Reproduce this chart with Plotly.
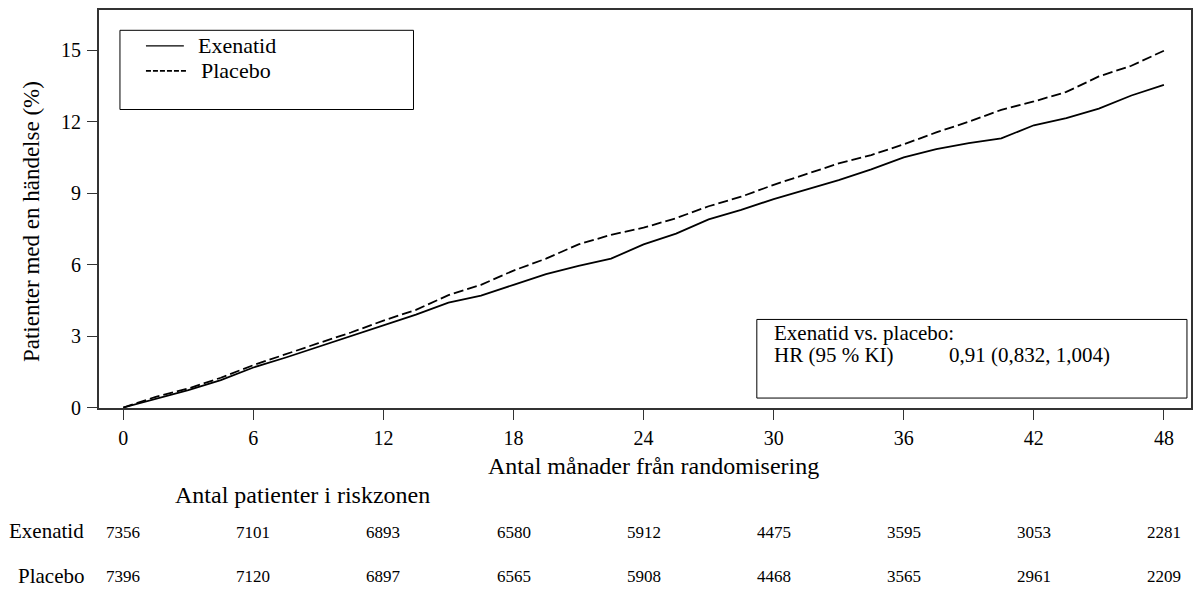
import plotly.graph_objects as go

# months from randomisation
months = [0, 1.5, 3, 4.5, 6, 7.5, 9, 10.5, 12, 13.5, 15, 16.5, 18, 19.5, 21, 22.5, 24,
          25.5, 27, 28.5, 30, 31.5, 33, 34.5, 36, 37.5, 39, 40.5, 42, 43.5, 45, 46.5, 48]
# cumulative % of patients with an event
exenatid = [0, 0.38, 0.73, 1.15, 1.68, 2.1, 2.55, 3.0, 3.46, 3.9, 4.4, 4.7, 5.15, 5.6, 5.95,
            6.25, 6.85, 7.3, 7.9, 8.3, 8.75, 9.15, 9.55, 10.0, 10.5, 10.85, 11.1, 11.3, 11.85,
            12.15, 12.55, 13.1, 13.55]
placebo = [0, 0.45, 0.8, 1.25, 1.78, 2.25, 2.7, 3.15, 3.65, 4.1, 4.72, 5.15, 5.75, 6.25, 6.85,
           7.25, 7.55, 7.95, 8.45, 8.85, 9.35, 9.8, 10.25, 10.6, 11.05, 11.55, 12.0, 12.5, 12.85,
           13.25, 13.9, 14.35, 14.98]

# number at risk
risk_months = [0, 6, 12, 18, 24, 30, 36, 42, 48]
risk_exenatid = [7356, 7101, 6893, 6580, 5912, 4475, 3595, 3053, 2281]
risk_placebo = [7396, 7120, 6897, 6565, 5908, 4468, 3565, 2961, 2209]

font_family = 'Liberation Serif, Times New Roman, serif'
solid = dict(color='black', width=1.8)
dashed = dict(color='black', width=1.8, dash='10px,4px')

fig = go.Figure()
fig.add_trace(go.Scatter(x=months, y=exenatid, mode='lines', name='Exenatid', line=solid))
fig.add_trace(go.Scatter(x=months, y=placebo, mode='lines', name='Placebo', line=dashed))

# legend box (drawn by hand so it matches the boxed key)
fig.add_shape(type='rect', xref='paper', yref='paper', x0=0.0192, x1=0.288, y0=0.75, y1=0.949,
              line=dict(color='black', width=1))
fig.add_shape(type='line', xref='paper', yref='paper', x0=0.043, x1=0.0777, y0=0.9098, y1=0.9098,
              line=dict(color='black', width=1.2))
fig.add_shape(type='line', xref='paper', yref='paper', x0=0.043, x1=0.0804, y0=0.8471, y1=0.8471,
              line=dict(color='black', width=1.8, dash='5px,2px'))
fig.add_annotation(x=0.0887, y=0.9098, xref='paper', yref='paper', text='Exenatid',
                   showarrow=False, xanchor='left', yanchor='middle', font=dict(size=22))
fig.add_annotation(x=0.0914, y=0.8471, xref='paper', yref='paper', text='Placebo',
                   showarrow=False, xanchor='left', yanchor='middle', font=dict(size=22))

# HR box
fig.add_shape(type='rect', xref='paper', yref='paper', x0=0.6024, x1=0.9963, y0=0.025, y1=0.2225,
              line=dict(color='black', width=1))
fig.add_annotation(x=0.616, y=0.1875, xref='paper', yref='paper', text='Exenatid vs. placebo:',
                   showarrow=False, xanchor='left', yanchor='middle', font=dict(size=21))
fig.add_annotation(x=0.616, y=0.1325, xref='paper', yref='paper', text='HR (95 % KI)',
                   showarrow=False, xanchor='left', yanchor='middle', font=dict(size=21))
fig.add_annotation(x=0.777, y=0.1325, xref='paper', yref='paper', text='0,91 (0,832, 1,004)',
                   showarrow=False, xanchor='left', yanchor='middle', font=dict(size=21))

# axis titles
fig.add_annotation(x=0.508, y=-0.145, xref='paper', yref='paper', text='Antal månader från randomisering',
                   showarrow=False, xanchor='center', yanchor='middle', font=dict(size=24))
fig.add_annotation(x=-0.0612, y=0.4675, xref='paper', yref='paper', text='Patienter med en händelse (%)',
                   showarrow=False, textangle=-90, xanchor='center', yanchor='middle', font=dict(size=23))

# risk table
fig.add_annotation(x=0.0676, y=-0.2175, xref='paper', yref='paper', text='Antal patienter i riskzonen',
                   showarrow=False, xanchor='left', yanchor='middle', font=dict(size=24))
fig.add_annotation(x=-0.0119, y=-0.31, xref='paper', yref='paper', text='Exenatid',
                   showarrow=False, xanchor='right', yanchor='middle', font=dict(size=21))
fig.add_annotation(x=-0.0119, y=-0.4225, xref='paper', yref='paper', text='Placebo',
                   showarrow=False, xanchor='right', yanchor='middle', font=dict(size=21))
for m, e, p in zip(risk_months, risk_exenatid, risk_placebo):
    fig.add_annotation(x=m, y=-0.3125, xref='x', yref='paper', text=str(e), showarrow=False,
                       xanchor='center', yanchor='middle', font=dict(size=17))
    fig.add_annotation(x=m, y=-0.4225, xref='x', yref='paper', text=str(p), showarrow=False,
                       xanchor='center', yanchor='middle', font=dict(size=17))

fig.update_xaxes(range=[-1.12, 49.25], tickvals=risk_months, ticks='outside', ticklen=10,
                 tickcolor='#333', showline=True, linecolor='#333', linewidth=2, mirror=True,
                 showgrid=False, zeroline=False, tickfont=dict(size=20), ticklabelstandoff=1)
fig.update_yaxes(range=[-0.02, 16.69], tickvals=[0, 3, 6, 9, 12, 15], ticks='outside', ticklen=10,
                 tickcolor='#333', showline=True, linecolor='#333', linewidth=2, mirror=True,
                 showgrid=False, zeroline=False, tickfont=dict(size=20), ticklabelstandoff=2)
# page body adds an 8px offset at the top-left of the window
fig.update_layout(width=1185, height=583, margin=dict(l=91, r=0, t=1, b=183),
                  plot_bgcolor='white', paper_bgcolor='white',
                  font=dict(family=font_family, color='black'), showlegend=False)
fig.write_html('out.html')
